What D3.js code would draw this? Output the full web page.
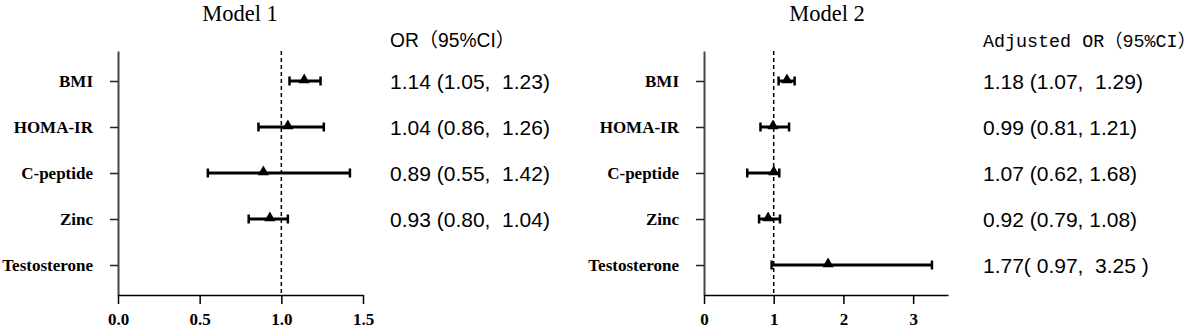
<!DOCTYPE html>
<html>
<head>
<meta charset="utf-8">
<script src="https://cdn.jsdelivr.net/npm/d3@7"></script>
<style>
  body { margin: 0; background: #fff; }
  svg { display: block; }
  .vals text { white-space: pre; }
</style>
</head>
<body>
<div id="chart-area"></div>
<script>
// Data
var labels = ["BMI", "HOMA-IR", "C-peptide", "Zinc", "Testosterone"];

var m1Or = [1.14, 1.04, 0.89, 0.93, null];
var m1Lo = [1.05, 0.86, 0.55, 0.80, null];
var m1Hi = [1.24, 1.26, 1.42, 1.04, null];
var m1Text = ["1.14 (1.05,  1.23)", "1.04 (0.86,  1.26)", "0.89 (0.55,  1.42)", "0.93 (0.80,  1.04)", ""];

var m2Or = [1.19, 0.99, 1.00, 0.92, 1.78];
var m2Lo = [1.07, 0.81, 0.62, 0.79, 0.97];
var m2Hi = [1.30, 1.22, 1.08, 1.09, 3.27];
var m2Text = ["1.18 (1.07,  1.29)", "0.99 (0.81, 1.21)", "1.07 (0.62, 1.68)", "0.92 (0.79, 1.08)", "1.77( 0.97,  3.25 )"];

var m1Ticks = [0, 0.5, 1.0, 1.5];
var m2Ticks = [0, 1, 2, 3];

var svg = d3.select("#chart-area")
    .append("svg")
    .attr("width", 1200)
    .attr("height", 328);

var yTop = 51, yBottom = 295;

function panel(opts) {
    var x = d3.scaleLinear().domain(opts.domain).range([opts.x0, opts.x1]);
    var y = d3.scalePoint().domain(labels).range([yTop, yBottom]).padding(0.652);

    var g = svg.append("g");

    // title
    g.append("text")
        .attr("x", opts.titleX)
        .attr("y", 21)
        .attr("text-anchor", "middle")
        .style("font-family", "'Liberation Serif', 'Times New Roman', serif")
        .style("font-size", "22.5px")
        .text(opts.title);

    // y axis
    var ya = g.append("g")
        .attr("transform", "translate(" + opts.x0 + ",0)")
        .call(d3.axisLeft(y).tickSize(8).tickSizeOuter(0).tickPadding(17));
    ya.select(".domain").attr("stroke", "#444").attr("stroke-width", 2);
    ya.selectAll(".tick line").attr("stroke", "#222").attr("stroke-width", 1.5);
    ya.selectAll(".tick text")
        .style("font-family", "'Liberation Serif', 'Times New Roman', serif")
        .style("font-weight", "bold")
        .style("font-size", "17px")
        .attr("fill", "#000");

    // x axis
    var xa = g.append("g")
        .attr("transform", "translate(0," + yBottom + ")")
        .call(d3.axisBottom(x).tickValues(opts.ticks).tickFormat(d3.format(opts.fmt))
            .tickSize(9).tickSizeOuter(0).tickPadding(9));
    xa.select(".domain").attr("stroke", "#000").attr("stroke-width", 1.5);
    xa.selectAll(".tick line").attr("stroke", "#000").attr("stroke-width", 1.5);
    xa.selectAll(".tick text")
        .style("font-family", "'Liberation Serif', 'Times New Roman', serif")
        .style("font-weight", "bold")
        .style("font-size", "17px")
        .attr("fill", "#000");

    // reference line at 1
    g.append("line")
        .attr("x1", x(1)).attr("x2", x(1))
        .attr("y1", yTop).attr("y2", yBottom)
        .attr("stroke", "#000")
        .attr("stroke-width", 1.5)
        .attr("stroke-dasharray", "4,3");

    var rows = labels.map(function (d, i) {
        return { name: d, or: opts.or[i], lo: opts.lo[i], hi: opts.hi[i], txt: opts.text[i] };
    });
    var drawn = rows.filter(function (d) { return d.or != null; });

    // CI lines
    g.selectAll(".ci")
        .data(drawn)
        .enter()
        .append("line")
        .attr("x1", function (d) { return x(d.lo); })
        .attr("x2", function (d) { return x(d.hi); })
        .attr("y1", function (d) { return y(d.name); })
        .attr("y2", function (d) { return y(d.name); })
        .attr("stroke", "#000")
        .attr("stroke-width", 3);

    // caps
    ["lo", "hi"].forEach(function (k) {
        g.selectAll(".cap-" + k)
            .data(drawn)
            .enter()
            .append("line")
            .attr("x1", function (d) { return x(d[k]); })
            .attr("x2", function (d) { return x(d[k]); })
            .attr("y1", function (d) { return y(d.name) - 4.5; })
            .attr("y2", function (d) { return y(d.name) + 4.5; })
            .attr("stroke", "#000")
            .attr("stroke-width", 2.5);
    });

    // markers
    g.selectAll(".pt")
        .data(drawn)
        .enter()
        .append("path")
        .attr("d", d3.symbol().type(d3.symbolTriangle).size(55))
        .attr("transform", function (d) { return "translate(" + x(d.or) + "," + (y(d.name) - 1) + ")"; })
        .attr("fill", "#000");

    // header of value column
    g.append("text")
        .attr("x", opts.textX)
        .attr("y", 47)
        .attr("textLength", opts.headLen)
        .attr("lengthAdjust", "spacingAndGlyphs")
        .style("font-family", opts.headFont)
        .style("font-size", opts.headSize)
        .style("white-space", "pre")
        .text(opts.head);

    // value column
    g.append("g").attr("class", "vals")
        .selectAll("text")
        .data(rows)
        .enter()
        .append("text")
        .attr("x", opts.textX)
        .attr("y", function (d) { return y(d.name) + 8; })
        .style("font-family", "'Liberation Sans', Arial, sans-serif")
        .style("font-size", "21px")
        .text(function (d) { return d.txt; });
}

panel({
    title: "Model 1", titleX: 240,
    domain: [0, 1.5], x0: 118, x1: 363, ticks: m1Ticks, fmt: ".1f",
    or: m1Or, lo: m1Lo, hi: m1Hi, text: m1Text,
    textX: 390, head: "OR（95%CI）", headLen: 125,
    headFont: "'Liberation Sans', Arial, 'Noto Sans CJK SC', sans-serif", headSize: "19.5px"
});

panel({
    title: "Model 2", titleX: 827,
    domain: [0, 3.5], x0: 704, x1: 948, ticks: m2Ticks, fmt: "d",
    or: m2Or, lo: m2Lo, hi: m2Hi, text: m2Text,
    textX: 983, head: "Adjusted OR（95%CI）", headLen: 213,
    headFont: "'Liberation Mono', 'Courier New', 'Noto Sans CJK SC', monospace", headSize: "18.5px"
});
</script>
</body>
</html>
